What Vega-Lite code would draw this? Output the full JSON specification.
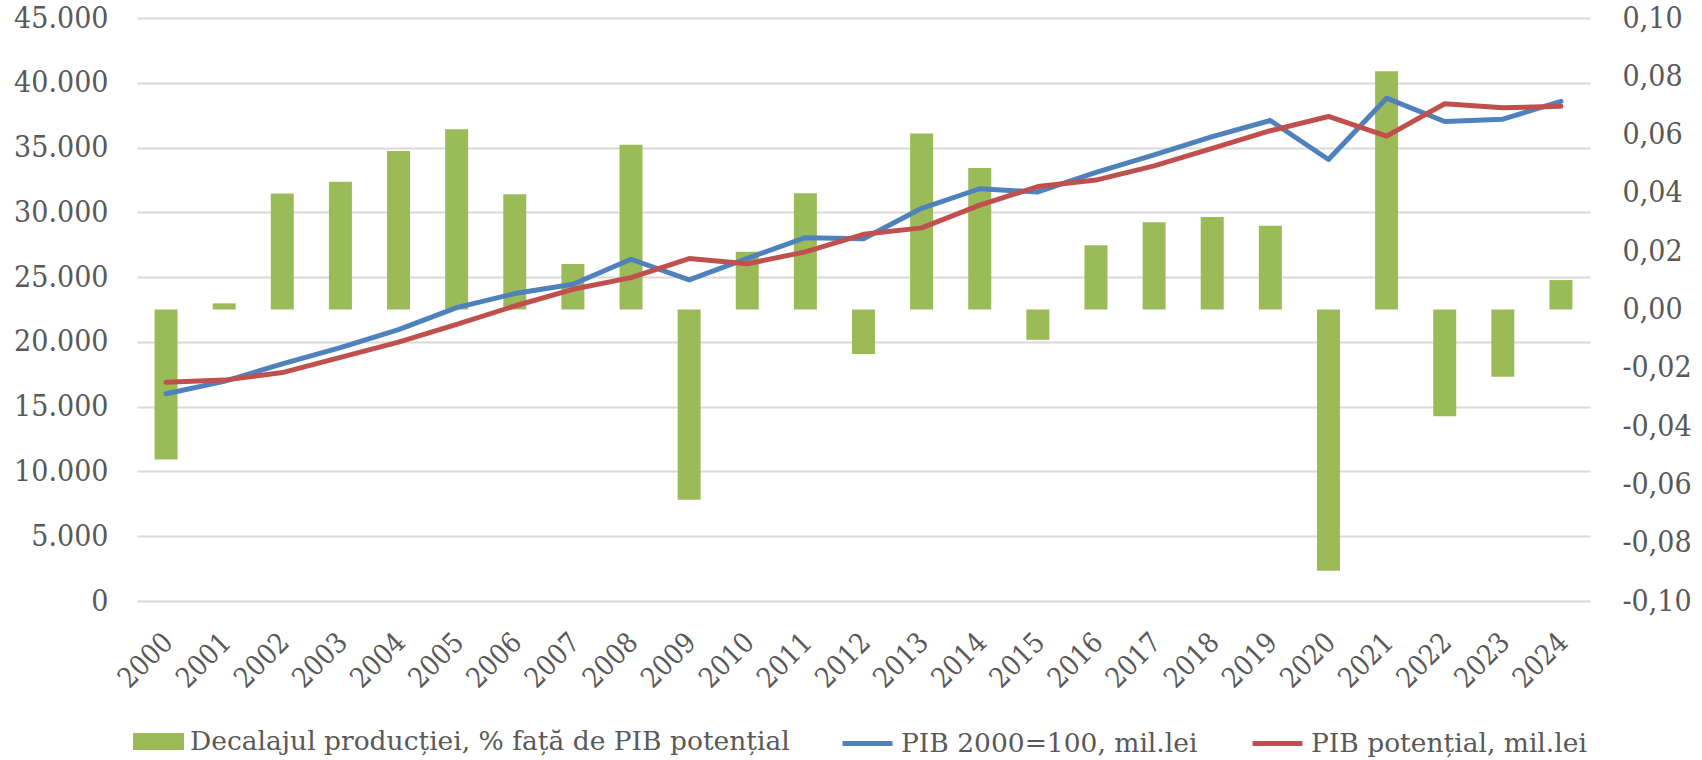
{
  "$schema": "https://vega.github.io/schema/vega-lite/v6.json",
  "width": 1453,
  "height": 583,
  "autosize": {"type": "none"},
  "padding": {"left": 137, "top": 18, "right": 112, "bottom": 159},
  "background": "white",
  "datasets": {
    "gap": [
      {"year": "2000", "gap": -0.0515, "series": "Decalajul producției, % față de PIB potențial"},
      {"year": "2001", "gap": 0.0021, "series": "Decalajul producției, % față de PIB potențial"},
      {"year": "2002", "gap": 0.0398, "series": "Decalajul producției, % față de PIB potențial"},
      {"year": "2003", "gap": 0.0438, "series": "Decalajul producției, % față de PIB potențial"},
      {"year": "2004", "gap": 0.0544, "series": "Decalajul producției, % față de PIB potențial"},
      {"year": "2005", "gap": 0.0618, "series": "Decalajul producției, % față de PIB potențial"},
      {"year": "2006", "gap": 0.0395, "series": "Decalajul producției, % față de PIB potențial"},
      {"year": "2007", "gap": 0.0156, "series": "Decalajul producției, % față de PIB potențial"},
      {"year": "2008", "gap": 0.0565, "series": "Decalajul producției, % față de PIB potențial"},
      {"year": "2009", "gap": -0.0653, "series": "Decalajul producției, % față de PIB potențial"},
      {"year": "2010", "gap": 0.0198, "series": "Decalajul producției, % față de PIB potențial"},
      {"year": "2011", "gap": 0.0399, "series": "Decalajul producției, % față de PIB potențial"},
      {"year": "2012", "gap": -0.0153, "series": "Decalajul producției, % față de PIB potențial"},
      {"year": "2013", "gap": 0.0604, "series": "Decalajul producției, % față de PIB potențial"},
      {"year": "2014", "gap": 0.0485, "series": "Decalajul producției, % față de PIB potențial"},
      {"year": "2015", "gap": -0.0104, "series": "Decalajul producției, % față de PIB potențial"},
      {"year": "2016", "gap": 0.022, "series": "Decalajul producției, % față de PIB potențial"},
      {"year": "2017", "gap": 0.0299, "series": "Decalajul producției, % față de PIB potențial"},
      {"year": "2018", "gap": 0.0317, "series": "Decalajul producției, % față de PIB potențial"},
      {"year": "2019", "gap": 0.0287, "series": "Decalajul producției, % față de PIB potențial"},
      {"year": "2020", "gap": -0.0896, "series": "Decalajul producției, % față de PIB potențial"},
      {"year": "2021", "gap": 0.0817, "series": "Decalajul producției, % față de PIB potențial"},
      {"year": "2022", "gap": -0.0366, "series": "Decalajul producției, % față de PIB potențial"},
      {"year": "2023", "gap": -0.0231, "series": "Decalajul producției, % față de PIB potențial"},
      {"year": "2024", "gap": 0.0101, "series": "Decalajul producției, % față de PIB potențial"}
    ],
    "lines": [
      {"year": "2000", "series": "PIB 2000=100, mil.lei", "value": 16000},
      {"year": "2001", "series": "PIB 2000=100, mil.lei", "value": 16950},
      {"year": "2002", "series": "PIB 2000=100, mil.lei", "value": 18300},
      {"year": "2003", "series": "PIB 2000=100, mil.lei", "value": 19560},
      {"year": "2004", "series": "PIB 2000=100, mil.lei", "value": 20950},
      {"year": "2005", "series": "PIB 2000=100, mil.lei", "value": 22650},
      {"year": "2006", "series": "PIB 2000=100, mil.lei", "value": 23730},
      {"year": "2007", "series": "PIB 2000=100, mil.lei", "value": 24450},
      {"year": "2008", "series": "PIB 2000=100, mil.lei", "value": 26380},
      {"year": "2009", "series": "PIB 2000=100, mil.lei", "value": 24780},
      {"year": "2010", "series": "PIB 2000=100, mil.lei", "value": 26450},
      {"year": "2011", "series": "PIB 2000=100, mil.lei", "value": 28040},
      {"year": "2012", "series": "PIB 2000=100, mil.lei", "value": 27960},
      {"year": "2013", "series": "PIB 2000=100, mil.lei", "value": 30310},
      {"year": "2014", "series": "PIB 2000=100, mil.lei", "value": 31820},
      {"year": "2015", "series": "PIB 2000=100, mil.lei", "value": 31570},
      {"year": "2016", "series": "PIB 2000=100, mil.lei", "value": 33080},
      {"year": "2017", "series": "PIB 2000=100, mil.lei", "value": 34430},
      {"year": "2018", "series": "PIB 2000=100, mil.lei", "value": 35850},
      {"year": "2019", "series": "PIB 2000=100, mil.lei", "value": 37090},
      {"year": "2020", "series": "PIB 2000=100, mil.lei", "value": 34080},
      {"year": "2021", "series": "PIB 2000=100, mil.lei", "value": 38810},
      {"year": "2022", "series": "PIB 2000=100, mil.lei", "value": 37010},
      {"year": "2023", "series": "PIB 2000=100, mil.lei", "value": 37190},
      {"year": "2024", "series": "PIB 2000=100, mil.lei", "value": 38560},
      {"year": "2000", "series": "PIB potențial, mil.lei", "value": 16880},
      {"year": "2001", "series": "PIB potențial, mil.lei", "value": 17050},
      {"year": "2002", "series": "PIB potențial, mil.lei", "value": 17630},
      {"year": "2003", "series": "PIB potențial, mil.lei", "value": 18810},
      {"year": "2004", "series": "PIB potențial, mil.lei", "value": 19980},
      {"year": "2005", "series": "PIB potențial, mil.lei", "value": 21360},
      {"year": "2006", "series": "PIB potențial, mil.lei", "value": 22770},
      {"year": "2007", "series": "PIB potențial, mil.lei", "value": 24060},
      {"year": "2008", "series": "PIB potențial, mil.lei", "value": 24960},
      {"year": "2009", "series": "PIB potențial, mil.lei", "value": 26430},
      {"year": "2010", "series": "PIB potențial, mil.lei", "value": 26030},
      {"year": "2011", "series": "PIB potențial, mil.lei", "value": 26950},
      {"year": "2012", "series": "PIB potențial, mil.lei", "value": 28300},
      {"year": "2013", "series": "PIB potențial, mil.lei", "value": 28800},
      {"year": "2014", "series": "PIB potențial, mil.lei", "value": 30560},
      {"year": "2015", "series": "PIB potențial, mil.lei", "value": 31990},
      {"year": "2016", "series": "PIB potențial, mil.lei", "value": 32490},
      {"year": "2017", "series": "PIB potențial, mil.lei", "value": 33590},
      {"year": "2018", "series": "PIB potențial, mil.lei", "value": 34930},
      {"year": "2019", "series": "PIB potențial, mil.lei", "value": 36300},
      {"year": "2020", "series": "PIB potențial, mil.lei", "value": 37400},
      {"year": "2021", "series": "PIB potențial, mil.lei", "value": 35880},
      {"year": "2022", "series": "PIB potențial, mil.lei", "value": 38380},
      {"year": "2023", "series": "PIB potențial, mil.lei", "value": 38070},
      {"year": "2024", "series": "PIB potențial, mil.lei", "value": 38190}
    ]
  },
  "config": {
    "view": {"stroke": null},
    "font": "DejaVu Serif Condensed",
    "axis": {
      "domain": false,
      "ticks": false,
      "tickSize": 0,
      "title": null,
      "labelFont": "DejaVu Serif Condensed",
      "labelColor": "#595959",
      "gridColor": "#D9D9D9",
      "gridWidth": 2
    },
    "legend": {
      "labelFont": "DejaVu Serif",
      "labelColor": "#595959",
      "labelFontSize": 26.5,
      "labelLimit": 1000,
      "padding": 0,
      "title": null
    }
  },
  "layer": [
    {
      "data": {"name": "gap"},
      "mark": {"type": "bar", "width": 23},
      "encoding": {
        "x": {
          "field": "year",
          "type": "ordinal",
          "scale": {"paddingInner": 0, "paddingOuter": 0},
          "axis": {
            "labelAngle": -45,
            "labelFontSize": 28,
            "labelPadding": 27,
            "labelOffset": -7,
            "grid": false
          }
        },
        "y": {
          "field": "gap",
          "type": "quantitative",
          "scale": {"domain": [-0.1, 0.1], "nice": false},
          "axis": {
            "orient": "right",
            "grid": false,
            "values": [-0.1, -0.08, -0.06, -0.04, -0.02, 0, 0.02, 0.04, 0.06, 0.08, 0.1],
            "labelFontSize": 30,
            "labelPadding": 32,
            "labelExpr": "replace(replace(format(datum.value, '.2f'), '.', ','), '\u2212', '-')"
          }
        },
        "fill": {
          "field": "series",
          "type": "nominal",
          "scale": {"domain": ["Decalajul producției, % față de PIB potențial"], "range": ["#9BBB59"]},
          "legend": {
            "orient": "none",
            "legendX": -4,
            "legendY": 698,
            "direction": "horizontal",
            "symbolType": "M-1,-0.333H1V0.333H-1Z",
            "symbolSize": 2601,
            "symbolStrokeWidth": 0,
            "labelOffset": 6
          }
        }
      }
    },
    {
      "data": {"name": "lines"},
      "mark": {"type": "line", "strokeWidth": 5, "strokeCap": "round", "strokeJoin": "round"},
      "encoding": {
        "x": {"field": "year", "type": "ordinal"},
        "y": {
          "field": "value",
          "type": "quantitative",
          "scale": {"domain": [0, 45000], "nice": false},
          "axis": {
            "orient": "left",
            "grid": true,
            "values": [0, 5000, 10000, 15000, 20000, 25000, 30000, 35000, 40000, 45000],
            "labelFontSize": 30,
            "labelPadding": 29,
            "labelExpr": "replace(format(datum.value, ','), ',', '.')"
          }
        },
        "stroke": {
          "field": "series",
          "type": "nominal",
          "scale": {"domain": ["PIB 2000=100, mil.lei", "PIB potențial, mil.lei"], "range": ["#4F81BD", "#C0504D"]},
          "legend": {
            "orient": "none",
            "legendX": 703,
            "legendY": 698,
            "direction": "horizontal",
            "symbolType": "stroke",
            "symbolSize": 2500,
            "symbolStrokeWidth": 5,
            "labelOffset": 6,
            "columnPadding": 44
          }
        }
      }
    }
  ],
  "resolve": {"scale": {"y": "independent"}}
}
